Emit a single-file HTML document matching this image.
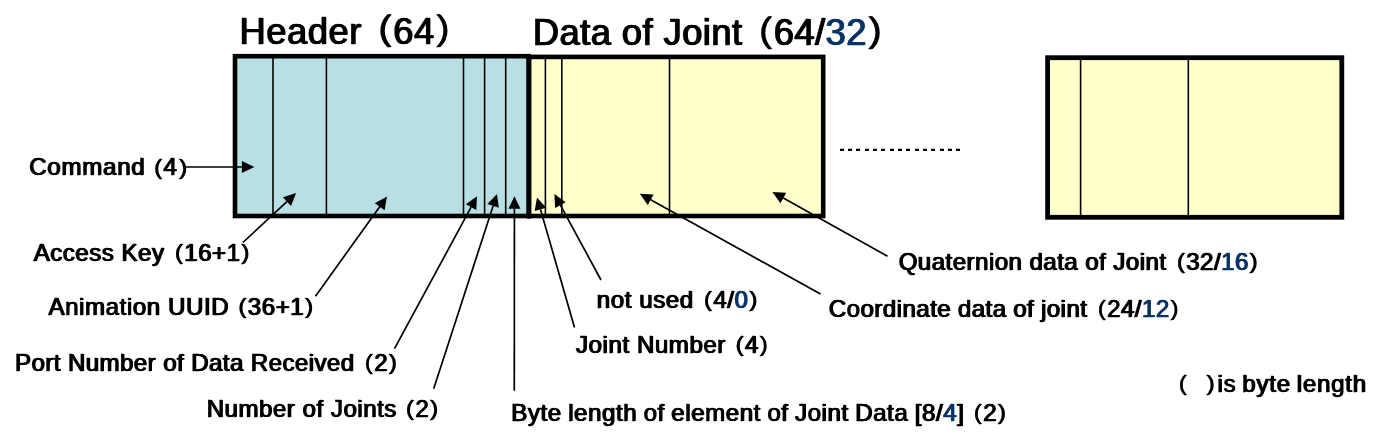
<!DOCTYPE html>
<html><head><meta charset="utf-8"><title>Packet layout</title>
<style>
html,body{margin:0;padding:0;background:#fff;}
body{width:1382px;height:436px;overflow:hidden;position:relative;}
svg{display:block;position:absolute;left:0;top:0;}
.t,.l{position:absolute;white-space:pre;font-family:"Liberation Sans","IPAGothic","Noto Sans CJK JP",sans-serif;color:#000;text-shadow:0.6px 0 0,1.2px 0 0;-webkit-text-stroke:0.3px;margin:0;}
.t{font-size:36.3px;line-height:36px;letter-spacing:0.55px;text-shadow:0.65px 0 0,1.3px 0 0;}
.l{font-size:24px;line-height:24px;letter-spacing:0.6px;}
.n{color:#0A3366;}
.po,.pc{font-family:"IPAGothic","Noto Sans CJK JP",sans-serif;line-height:0;letter-spacing:0;position:relative;}
.l .po,.l .pc{font-size:22.3px;top:1.1px;}
.l .po{margin-left:-2.6px;margin-right:0px;}
.l .pc{margin-left:-0.6px;margin-right:-3px;}
.t .po,.t .pc{top:1px;}
.t .po{margin-left:-4.5px;margin-right:-0.5px;}
.t .pc{margin-left:-0.5px;margin-right:-4px;}
.thin{stroke:#000;stroke-width:1.6;fill:none;}
.ar{stroke:#000;stroke-width:1.7;fill:none;}
.box{stroke:#000;stroke-linejoin:miter;}
</style></head><body>
<svg width="1382" height="436" viewBox="0 0 1382 436">
<rect x="0" y="0" width="1382" height="436" fill="#fff"/>
<rect class="box" x="235.00" y="56.20" width="293.70" height="159.80" fill="#B8E0E4" stroke-width="4.6"/>
<rect class="box" x="529.10" y="56.90" width="294.10" height="159.10" fill="#FFFFCC" stroke-width="4.6"/>
<rect class="box" x="1047.60" y="57.70" width="294.20" height="159.60" fill="#FFFFCC" stroke-width="4.8"/>
<line x1="528.9" y1="54.3" x2="528.9" y2="218.4" stroke="#000" stroke-width="4.3"/>
<line class="thin" x1="273" y1="58" x2="273" y2="215"/>
<line class="thin" x1="326.4" y1="58" x2="326.4" y2="215"/>
<line class="thin" x1="463.5" y1="58" x2="463.5" y2="215"/>
<line class="thin" x1="484.6" y1="58" x2="484.6" y2="215"/>
<line class="thin" x1="505.7" y1="58" x2="505.7" y2="215"/>
<line class="thin" x1="545.4" y1="58" x2="545.4" y2="215"/>
<line class="thin" x1="561.8" y1="58" x2="561.8" y2="215"/>
<line class="thin" x1="669.5" y1="58" x2="669.5" y2="215"/>
<line class="thin" x1="1080.6" y1="58" x2="1080.6" y2="216"/>
<line class="thin" x1="1188.3" y1="58" x2="1188.3" y2="216"/>
<path fill="#000" d="M840 148.8h4v2.3h-4z M848 148.8h4v2.3h-4z M856 148.8h4v2.3h-4z M865 148.8h4v2.3h-4z M873 148.8h4v2.3h-4z M881 148.8h4v2.3h-4z M890 148.8h4v2.3h-4z M898 148.8h4v2.3h-4z M906 148.8h4v2.3h-4z M915 148.8h4v2.3h-4z M923 148.8h4v2.3h-4z M931 148.8h4v2.3h-4z M940 148.8h4v2.3h-4z M948 148.8h4v2.3h-4z M956 148.8h4v2.3h-4z"/>
<line class="ar" x1="185.5" y1="167.0" x2="241.9" y2="167.0"/>
<polygon points="254.4,167.0 241.9,173.0 241.9,161.0" fill="#000"/>
<line class="ar" x1="242.9" y1="242.5" x2="286.9" y2="201.6"/>
<polygon points="296.1,193.1 291.0,206.0 282.9,197.2" fill="#000"/>
<line class="ar" x1="315.5" y1="296.2" x2="379.7" y2="206.7"/>
<polygon points="387.0,196.5 384.6,210.2 374.8,203.2" fill="#000"/>
<line class="ar" x1="394.5" y1="348.7" x2="471.1" y2="207.2"/>
<polygon points="477.0,196.2 476.3,210.0 465.8,204.3" fill="#000"/>
<line class="ar" x1="433.7" y1="388.7" x2="493.1" y2="206.0"/>
<polygon points="497.0,194.1 498.8,207.8 487.4,204.1" fill="#000"/>
<line class="ar" x1="514.3" y1="390.7" x2="514.4" y2="208.7"/>
<polygon points="514.4,196.2 520.4,208.7 508.4,208.7" fill="#000"/>
<line class="ar" x1="574.5" y1="327.5" x2="540.5" y2="209.4"/>
<polygon points="537.0,197.4 546.2,207.7 534.7,211.1" fill="#000"/>
<line class="ar" x1="601.0" y1="280.0" x2="560.4" y2="205.1"/>
<polygon points="554.4,194.1 565.6,202.2 555.1,207.9" fill="#000"/>
<line class="ar" x1="820.5" y1="294.0" x2="650.7" y2="199.8"/>
<polygon points="639.8,193.7 653.6,194.5 647.8,205.0" fill="#000"/>
<line class="ar" x1="887.5" y1="256.2" x2="783.3" y2="198.0"/>
<polygon points="772.4,191.9 786.2,192.8 780.4,203.2" fill="#000"/>
</svg>
<div class="t" style="left:239px;top:13.62px;">Header<span class="po" style="top:0.1px">（</span>64<span class="pc" style="top:0.1px">）</span></div>
<div class="t" style="left:532.3px;top:14.92px;letter-spacing:0.45px;">Data of Joint<span class="po">（</span>64/<span class="n">32</span><span class="pc">）</span></div>
<div class="l" style="left:28.7px;top:155.48px;letter-spacing:0.8px;">Command<span class="po" style="margin-left:-4.3px">（</span>4<span class="pc" style="margin-left:0.2px">）</span></div>
<div class="l" style="left:33.2px;top:241.08px;letter-spacing:0.55px;">Access Key<span class="po">（</span>16+1<span class="pc">）</span></div>
<div class="l" style="left:48px;top:294.88px;letter-spacing:0.62px;">Animation UUID<span class="po" style="margin-left:-3.8px">（</span>36+1<span class="pc">）</span></div>
<div class="l" style="left:14.6px;top:350.68px;letter-spacing:0.45px;">Port Number of Data Received<span class="po">（</span>2<span class="pc">）</span></div>
<div class="l" style="left:206.2px;top:397.18px;letter-spacing:0.55px;">Number of Joints<span class="po" style="margin-left:-3.8px">（</span>2<span class="pc">）</span></div>
<div class="l" style="left:510.8px;top:401.38px;word-spacing:-0.8px;">Byte length of element of Joint Data [8/<span class="n">4</span>]<span class="po" style="margin-left:-3.6px">（</span>2<span class="pc">）</span></div>
<div class="l" style="left:575.5px;top:332.88px;">Joint Number<span class="po" style="margin-left:-3.2px">（</span>4<span class="pc">）</span></div>
<div class="l" style="left:596.3px;top:287.68px;">not used<span class="po">（</span>4/<span class="n">0</span><span class="pc">）</span></div>
<div class="l" style="left:828.3px;top:297.38px;letter-spacing:0.5px;word-spacing:-0.5px;">Coordinate data of joint<span class="po">（</span>24/<span class="n">12</span><span class="pc">）</span></div>
<div class="l" style="left:898.2px;top:250.18px;letter-spacing:0.5px;word-spacing:-0.1px;">Quaternion data of Joint<span class="po">（</span>32/<span class="n">16</span><span class="pc">）</span></div>
<div class="l" style="left:1168px;top:372.08px;letter-spacing:0.8px;word-spacing:-1.6px;"><span class="po">（</span>   <span class="pc">）</span><span style="margin-left:-7px">is byte length</span></div>
</body></html>
